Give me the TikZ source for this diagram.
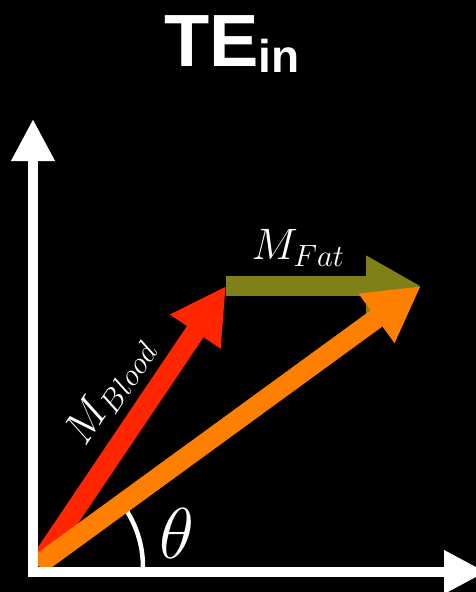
\RequirePackage{fix-cm}
\documentclass[tikz,border=0pt]{standalone}
\usepackage{fontspec}
\newfontfamily\titlefont{Liberation Sans}
\usetikzlibrary{arrows.meta}
\definecolor{bloodred}{RGB}{255,38,0}
\definecolor{fatolive}{RGB}{128,128,25}
\definecolor{sumorange}{RGB}{255,128,0}
\begin{document}
\begin{tikzpicture}[x=1pt,y=-1pt,
  axis/.style={white, line width=10pt, -{Triangle[width=41pt,length=42pt]}},
  vec/.style={line width=20pt, -{Triangle[width=57pt,length=55pt]}},
  lbl/.style={text=white, inner sep=0pt, font=\fontsize{44}{50}\selectfont}]
\useasboundingbox[fill=black] (0,0) rectangle (476,592);
\node[text=white, inner sep=0pt, anchor=base west] (title) at (164,66)
  {\titlefont\bfseries\fontsize{74}{80}\selectfont TE\raisebox{-6pt}{\fontsize{46}{50}\selectfont in}};
 \coordinate (O) at (38,565);
 \coordinate (blood) at (226,286);
 \coordinate (fat) at (421,286);
 \coordinate (xstart) at (28,572);
 \coordinate (xend) at (486,572);
 \coordinate (ystart) at (33,577);
 \coordinate (yend) at (33,119);
 \coordinate (arcstart) at (143,567);
  \draw[white, line width=4.5pt] (arcstart) arc[start angle=0, end angle=-36, radius=105];
  \draw[vec, bloodred] (O) -- (blood);
  \draw[vec, fatolive] (blood) -- (fat);
  \draw[vec, sumorange] (O) -- (fat);
  \draw[axis] (ystart) -- (yend);
  \draw[axis] (xstart) -- (xend);
 \begin{scope}[every node/.style={lbl}]
  \node (fatlabel) at (298,248) {$M_{Fat}$};
  \node[rotate=56] (bloodlabel) at (110,391) {$M_{Blood}$};
  \node[font=\fontsize{72}{80}\selectfont] (theta) at (177,533) {$\theta$};
 \end{scope}
\end{tikzpicture}
\end{document}
